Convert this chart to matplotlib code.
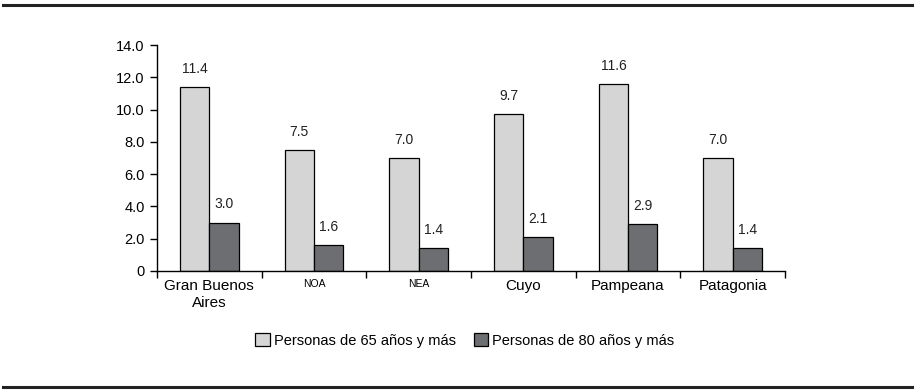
import matplotlib
matplotlib.use('Agg')
import matplotlib.pyplot as plt
import numpy as np
from matplotlib.lines import Line2D

regiones = ['Gran Buenos\nAires', 'NOA', 'NEA', 'Cuyo', 'Pampeana', 'Patagonia']
pers_65 = [11.4, 7.5, 7.0, 9.7, 11.6, 7.0]
pers_80 = [3.0, 1.6, 1.4, 2.1, 2.9, 1.4]
yticks = [0, 2, 4, 6, 8, 10, 12, 14]
ytick_labels = ['0', '2.0', '4.0', '6.0', '8.0', '10.0', '12.0', '14.0']

plt.rcParams['font.family'] = ['Liberation Sans', 'DejaVu Sans']

fig = plt.figure(figsize=(9.15, 3.92), dpi=100)
ax = fig.add_axes([0.1716, 0.3087, 0.6864, 0.5765])

x = np.arange(len(regiones))
w = 0.28
b1 = ax.bar(x - w / 2, pers_65, w, color='#d4d5d4', edgecolor='black', linewidth=0.9,
            label='Personas de 65 años y más')
b2 = ax.bar(x + w / 2, pers_80, w, color='#6d6e71', edgecolor='black', linewidth=0.9,
            label='Personas de 80 años y más')

for rect, v in zip(list(b1) + list(b2), pers_65 + pers_80):
    ax.annotate('%.1f' % v, (rect.get_x() + rect.get_width() / 2, v),
                xytext=(0, 8), textcoords='offset points', ha='center', va='bottom',
                fontsize=10, color='#222222')

ax.set_xlim(-0.5, len(regiones) - 0.5)
ax.set_ylim(0, 14)
ax.set_yticks(yticks)
ax.set_yticklabels(ytick_labels, fontsize=10.5)
ax.tick_params(axis='y', direction='out', length=5, width=1, pad=4)

# ticks between the categories, labels in the middle
ax.set_xticks(np.arange(-0.5, len(regiones), 1))
ax.set_xticklabels([])
ax.tick_params(axis='x', direction='out', length=5, width=1)
ax.set_xticks(x, minor=True)
ax.set_xticklabels(regiones, minor=True)
ax.tick_params(axis='x', which='minor', length=0, pad=6)
for lbl in ax.get_xticklabels(minor=True):
    if lbl.get_text() in ('NOA', 'NEA'):
        lbl.set_fontsize(7.5)
    else:
        lbl.set_fontsize(11)

for s in ['top', 'right']:
    ax.spines[s].set_visible(False)
ax.spines['left'].set_linewidth(1)
ax.spines['bottom'].set_linewidth(1)

fig.legend(handles=[b1, b2], loc='center', bbox_to_anchor=(0.508, 0.132), ncol=2,
           frameon=False, fontsize=10.5, handlelength=1.0, handleheight=1.0,
           handletextpad=0.3, columnspacing=1.2)

# framing rules at top and bottom
fig.add_artist(Line2D([0.003, 0.997], [0.986, 0.986], color='#222222', lw=2.2))
fig.add_artist(Line2D([0.003, 0.997], [0.014, 0.014], color='#222222', lw=2.2))

fig.savefig('out.png', dpi=100)
